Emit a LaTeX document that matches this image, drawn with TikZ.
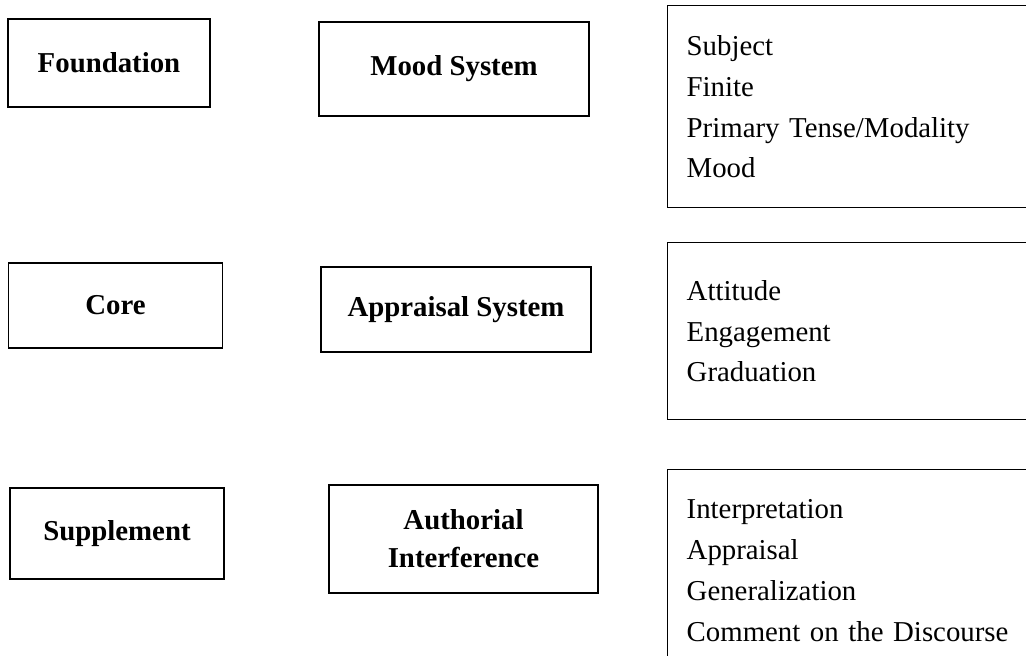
\documentclass[tikz,border=0pt]{standalone}
\usepackage{fontspec}
\setmainfont{Liberation Serif}
\usetikzlibrary{positioning}

\tikzset{
  levelbox/.style={draw, line width=0.8pt, align=center, inner sep=2pt,
                   font=\bfseries\fontsize{16.4}{21.6}\selectfont},
  listbox/.style={draw, line width=0.8pt, anchor=north west, align=left,
                  inner xsep=0.38cm, inner ysep=0pt, text width=7.2cm,
                  font=\fontsize{16.4}{23.3}\selectfont},
}

\begin{document}
\begin{tikzpicture}[x=0.02cm, y=-0.02cm]
  \useasboundingbox (0,0) rectangle (1026,655);
  \clip (0,0) rectangle (1026,655);

  % left column
  \node[levelbox, minimum width=4.04cm, minimum height=1.76cm] (found) at (109,63) {Foundation};
  \node[levelbox, minimum width=4.28cm, minimum height=1.70cm] (core) at (115.5,305.5) {Core};
  \node[levelbox, minimum width=4.28cm, minimum height=1.82cm] (suppl) at (117,533.5) {Supplement};

  % middle column
  \node[levelbox, minimum width=5.40cm, minimum height=1.88cm] (mood) at (454,69) {Mood System};
  \node[levelbox, minimum width=5.40cm, minimum height=1.70cm] (apprs) at (456,309.5) {Appraisal System};
  \node[levelbox, minimum width=5.38cm, minimum height=2.16cm] (author) at (463.5,539) {Authorial\\Interference};

  % right column, running off the page
  \node[listbox, minimum height=4.04cm] (moodlist) at (667,5)
       {Subject\\Finite\\Primary Tense/Modality\\Mood};
  \node[listbox, minimum height=3.54cm] (apprslist) at (667,242)
       {Attitude\\Engagement\\Graduation};
  \node[listbox, minimum height=4.04cm] (authorlist) at (667,469)
       {Interpretation\\Appraisal\\Generalization\\Comment on the Discourse};
\end{tikzpicture}
\end{document}
